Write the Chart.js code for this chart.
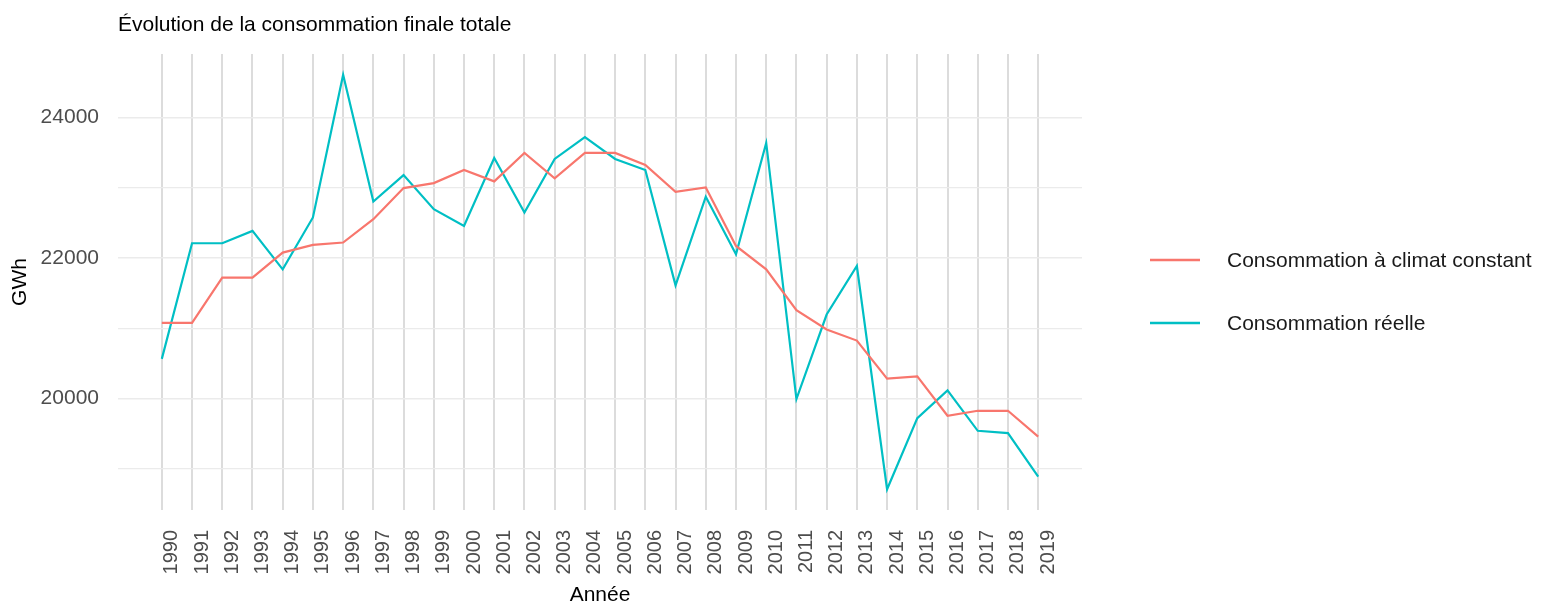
<!DOCTYPE html>
<html>
<head>
<meta charset="utf-8">
<script src="https://cdn.jsdelivr.net/npm/chart.js@4"></script>
<style>
  body { margin: 0; background: #ffffff; }
  canvas { display: block; }
</style>
</head>
<body>
<canvas id="conso" width="1544" height="606"></canvas>
<script>
// ----------------- DATA -----------------
var years = [1990, 1991, 1992, 1993, 1994, 1995, 1996, 1997, 1998, 1999,
             2000, 2001, 2002, 2003, 2004, 2005, 2006, 2007, 2008, 2009,
             2010, 2011, 2012, 2013, 2014, 2015, 2016, 2017, 2018, 2019];

// GWh, consommation corrigée du climat
var climatConstant = [21077, 21077, 21720, 21720, 22077, 22186, 22220, 22553, 22996, 23067,
                      23253, 23091, 23496, 23134, 23496, 23496, 23324, 22943, 23005, 22171,
                      21838, 21257, 20981, 20824, 20281, 20314, 19753, 19824, 19824, 19457];

// GWh, consommation observée
var reelle = [20563, 22210, 22210, 22386, 21838, 22577, 24610, 22805, 23181, 22695,
              22457, 23424, 22648, 23410, 23720, 23410, 23253, 21610, 22872, 22053,
              23638, 19991, 21195, 21886, 18706, 19720, 20114, 19539, 19506, 18886];

var seriesNames = ["Consommation à climat constant", "Consommation réelle"];
var yTicks = [19000, 20000, 21000, 22000, 23000, 24000];
var yLabelled = [20000, 22000, 24000];

var FONT = "'Liberation Sans', Arial, sans-serif";

// ----------------- HELPERS -----------------
function toPoints(values) {
    var pts = [];
    for (var i = 0; i < years.length; i++) {
        pts.push({x: years[i], y: values[i]});
    }
    return pts;
}

// title and legend drawn by hand, ggplot style
var ggExtras = {
    id: 'ggExtras',
    afterDraw: function(chart) {
        var ctx = chart.ctx;
        ctx.save();
        ctx.fillStyle = '#000000';
        ctx.font = '21px ' + FONT;
        ctx.textAlign = 'left';
        ctx.textBaseline = 'alphabetic';
        ctx.fillText('Évolution de la consommation finale totale', 118, 31);

        var ys = [260, 323];
        chart.data.datasets.forEach(function(ds, i) {
            ctx.strokeStyle = ds.borderColor;
            ctx.lineWidth = 2.4;
            ctx.beginPath();
            ctx.moveTo(1150, ys[i]);
            ctx.lineTo(1200, ys[i]);
            ctx.stroke();
            ctx.fillStyle = '#1a1a1a';
            ctx.textBaseline = 'middle';
            ctx.fillText(ds.label, 1227, ys[i] + 1);
        });
        ctx.restore();
    }
};

// ----------------- CHART -----------------
var chart = new Chart(document.getElementById('conso'), {
    type: 'line',
    data: {
        datasets: [{
            label: seriesNames[0],
            data: toPoints(climatConstant),
            borderColor: '#F8766D',
            borderWidth: 2.2,
            pointRadius: 0,
            tension: 0
        }, {
            label: seriesNames[1],
            data: toPoints(reelle),
            borderColor: '#00BFC4',
            borderWidth: 2.2,
            pointRadius: 0,
            tension: 0
        }]
    },
    options: {
        responsive: false,
        devicePixelRatio: 1,
        animation: false,
        layout: { padding: { top: 54, right: 462, left: 0, bottom: 0 } },
        plugins: {
            legend: { display: false },
            tooltip: { enabled: false }
        },
        scales: {
            x: {
                type: 'linear',
                min: 1988.55,
                max: 2020.45,
                afterBuildTicks: function(scale) {
                    scale.ticks = years.map(function(y) { return {value: y}; });
                },
                afterFit: function(scale) { scale.height = 96; },
                border: { display: false },
                grid: { color: '#DCDCDC', lineWidth: 2, drawTicks: false },
                ticks: {
                    autoSkip: false,
                    minRotation: 90,
                    maxRotation: 90,
                    padding: 20,
                    labelOffset: 10,
                    color: '#4D4D4D',
                    font: { family: FONT, size: 20 },
                    callback: function(v) { return String(v); }
                },
                title: {
                    display: true,
                    text: 'Année',
                    color: '#000000',
                    font: { family: FONT, size: 21, lineHeight: 1 },
                    padding: { top: 0, bottom: 0 }
                }
            },
            y: {
                min: 18411,
                max: 24905,
                afterBuildTicks: function(scale) {
                    scale.ticks = yTicks.map(function(v) { return {value: v}; });
                },
                afterFit: function(scale) { scale.width = 118; },
                border: { display: false },
                grid: {
                    drawTicks: false,
                    color: '#EBEBEB',
                    lineWidth: function(c) {
                        return yLabelled.indexOf(c.tick.value) >= 0 ? 1.6 : 1.2;
                    }
                },
                ticks: {
                    padding: 19,
                    color: '#4D4D4D',
                    font: { family: FONT, size: 21 },
                    callback: function(v) {
                        return yLabelled.indexOf(v) >= 0 ? String(v) : '';
                    }
                },
                title: {
                    display: true,
                    text: 'GWh',
                    color: '#000000',
                    font: { family: FONT, size: 21, lineHeight: 1.2 },
                    padding: { top: 8, bottom: 0 }
                }
            }
        }
    },
    plugins: [ggExtras]
});
</script>
</body>
</html>
